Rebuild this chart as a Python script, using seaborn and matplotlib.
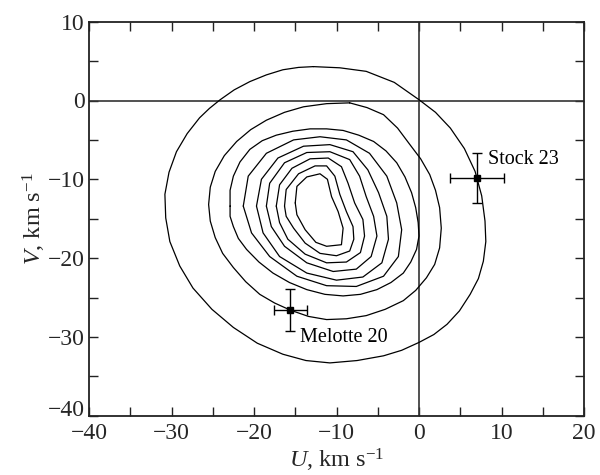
import numpy as np
import pandas as pd
import matplotlib
matplotlib.use("Agg")
import matplotlib.pyplot as plt
from matplotlib.ticker import MultipleLocator
import seaborn as sns

# ---------------- data ----------------
# velocity-distribution contours in the (U, V) plane, outermost first
c1_u = [-12.8, -9.6, -6.4, -3.0, 0.0, 2.0, 3.8, 5.5, 6.8, 7.6, 8.0, 8.1, 7.8, 7.2, 6.2, 4.9, 3.4, 1.8,
        0.0, -2.1, -4.3, -7.5, -10.8, -13.7, -16.5, -19.6, -22.5, -25.1, -27.4, -29.0, -30.2, -30.7,
        -30.8, -30.3, -29.4, -28.1, -26.6, -25.4, -24.1, -22.4, -20.5, -18.5, -16.5, -14.6]
c1_v = [4.3, 4.15, 3.7, 2.3, 0.1, -1.5, -3.5, -6.1, -9.0, -12.1, -15.3, -17.9, -20.4, -22.6, -24.6,
        -26.7, -28.4, -29.7, -30.7, -31.7, -32.4, -33.0, -33.3, -33.0, -32.2, -30.8, -28.8, -26.5,
        -23.8, -21.0, -17.9, -14.9, -11.9, -9.1, -6.5, -4.2, -2.2, -1.0, 0.1, 1.35, 2.4, 3.25, 3.9, 4.2]

c2_u = [-8.4, -6.3, -4.3, -2.6, -1.1, 0.2, 1.3, 2.0, 2.5, 2.7, 2.5, 1.9, 0.9, -0.4, -1.9, -4.1, -6.4,
        -8.8, -11.2, -13.4, -15.6, -17.5, -19.3, -21.0, -22.5, -23.8, -24.7, -25.3, -25.5, -25.3,
        -24.7, -23.6, -22.1, -20.4, -18.5, -16.3, -14.0, -11.2]
c2_v = [-0.3, -0.9, -1.8, -3.5, -5.6, -7.4, -9.4, -11.4, -13.6, -16.2, -18.7, -20.8, -22.5, -24.1,
        -25.4, -26.5, -27.3, -27.7, -27.8, -27.4, -26.6, -25.7, -24.6, -23.0, -21.2, -19.4, -17.4,
        -15.3, -13.2, -11.0, -9.0, -7.0, -5.2, -3.7, -2.5, -1.5, -0.8, -0.4]

c3_u = [-22.9, -22.9, -22.5, -21.7, -20.5, -19.0, -17.3, -15.3, -13.2, -11.2, -9.2, -7.3, -5.5, -4.0,
        -2.7, -1.7, -0.9, -0.4, -0.1, 0.0, -0.3, -1.0, -1.9, -3.4, -5.1, -7.1, -9.2, -11.4, -13.6,
        -15.7, -17.7, -19.4, -20.9, -21.9, -22.5, -22.9]
c3_v = [-13.4, -11.4, -9.6, -7.8, -6.2, -5.1, -4.4, -3.9, -3.6, -3.6, -3.8, -4.4, -5.2, -6.4, -7.9,
        -9.7, -11.7, -13.6, -15.5, -17.2, -18.9, -20.5, -21.9, -23.1, -24.0, -24.6, -24.8, -24.6,
        -24.0, -23.1, -21.9, -20.5, -18.9, -17.5, -16.0, -14.7]

c4_u = [-21.3, -20.7, -18.5, -15.2, -12.0, -8.8, -6.0, -3.9, -2.7, -2.1, -2.5, -4.3, -7.6, -11.2, -14.8, -18.1, -20.3]
c4_v = [-13.4, -9.6, -6.7, -5.0, -4.6, -5.0, -6.7, -9.6, -13.0, -16.4, -19.8, -22.3, -23.6, -23.5, -22.3, -19.8, -16.8]

c5_u = [-19.7, -19.1, -17.1, -14.0, -10.8, -8.0, -6.2, -4.9, -3.9, -3.7, -4.5, -6.8, -10.0, -13.6, -16.9, -18.9]
c5_v = [-13.4, -10.0, -7.3, -5.8, -5.6, -6.5, -8.8, -11.7, -14.7, -17.6, -20.6, -22.4, -22.8, -21.9, -19.8, -16.8]

c6_u = [-18.5, -18.1, -16.3, -13.6, -10.8, -8.4, -7.2, -6.4, -5.5, -5.1, -5.8, -7.6, -10.4, -13.6, -16.3, -17.9]
c6_v = [-13.4, -10.5, -7.9, -6.6, -6.5, -7.5, -9.6, -12.2, -14.7, -17.2, -19.8, -21.4, -21.7, -20.6, -18.5, -16.0]

c7_u = [-17.3, -16.9, -15.4, -13.2, -11.0, -9.4, -8.6, -7.8, -6.8, -6.6, -7.1, -8.8, -11.2, -13.8, -15.9, -16.9]
c7_v = [-13.4, -10.7, -8.6, -7.4, -7.3, -8.4, -10.5, -13.0, -15.1, -17.2, -19.3, -20.5, -20.6, -19.5, -17.6, -15.5]

c8_u = [-16.3, -16.1, -14.6, -12.6, -11.2, -10.2, -9.6, -8.8, -8.0, -7.9, -8.4, -10.0, -12.0, -13.8, -15.2, -16.1]
c8_v = [-13.4, -11.3, -9.3, -8.3, -8.3, -9.6, -11.9, -14.1, -16.0, -17.6, -19.1, -19.7, -19.4, -18.1, -16.2, -14.7]

c9_u = [-15.0, -14.8, -13.6, -12.0, -11.1, -10.6, -9.8, -9.2, -9.4, -11.2, -12.5, -13.8, -14.8]
c9_v = [-13.0, -10.9, -9.7, -9.3, -10.0, -12.2, -14.1, -16.2, -18.3, -18.5, -18.0, -16.4, -14.5]

# open clusters with their velocity errors
cluster_names = ["Stock 23", "Melotte 20"]
cluster_u = [7.0, -15.6]
cluster_v = [-9.8, -26.6]
cluster_u_err = [3.3, 2.0]
cluster_v_err = [3.2, 2.7]

# axis settings
x_ticks = [-40, -30, -20, -10, 0, 10, 20]
y_ticks = [-40, -30, -20, -10, 0, 10]

# ---------------- build long table ----------------
contours_u = [c1_u, c2_u, c3_u, c4_u, c5_u, c6_u, c7_u, c8_u, c9_u]
contours_v = [c1_v, c2_v, c3_v, c4_v, c5_v, c6_v, c7_v, c8_v, c9_v]
rows = []
for level, (us, vs) in enumerate(zip(contours_u, contours_v)):
    us = list(us) + [us[0]]
    vs = list(vs) + [vs[0]]
    for order, (u, v) in enumerate(zip(us, vs)):
        rows.append({"level": level, "order": order, "U": u, "V": v})
df = pd.DataFrame(rows)

# ---------------- style ----------------
sns.set_theme(style="white")
plt.rcParams["font.family"] = ["Liberation Serif", "DejaVu Serif"]
plt.rcParams["mathtext.fontset"] = "custom"
plt.rcParams["mathtext.rm"] = "Liberation Serif"
plt.rcParams["mathtext.it"] = "Liberation Serif:italic"
plt.rcParams["axes.unicode_minus"] = True

fig = plt.figure(figsize=(6, 4.75), dpi=100)
ax = fig.add_axes([89 / 600, 1 - 415.7 / 475, (584 - 89) / 600, (415.7 - 21.7) / 475])

ax.axhline(0, color="#333333", lw=1.2, zorder=1)
ax.axvline(0, color="#333333", lw=1.2, zorder=1)

sns.lineplot(data=df, x="U", y="V", units="level", estimator=None, sort=False,
             color="black", lw=0.9, ax=ax, legend=False, zorder=2)

ax.errorbar(cluster_u, cluster_v, xerr=cluster_u_err, yerr=cluster_v_err,
            fmt="s", color="black", ms=5, capsize=3.5, elinewidth=1.0,
            capthick=1.0, zorder=3)

ax.text(cluster_u[0] + 1.4, cluster_v[0] + 2.3, cluster_names[0],
        fontsize=14.5, ha="left", va="center", color="black")
ax.text(cluster_u[1] + 1.2, cluster_v[1] - 3.5, cluster_names[1],
        fontsize=14.5, ha="left", va="center", color="black")

ax.set_xlim(-40, 20)
ax.set_ylim(-40, 10)
ax.set_xticks(x_ticks)
ax.set_yticks(y_ticks)
ax.xaxis.set_minor_locator(MultipleLocator(5))
ax.yaxis.set_minor_locator(MultipleLocator(5))
ax.tick_params(which="both", direction="in", top=True, right=True,
               bottom=True, left=True, length=6.5, width=1.0, color="#222222")
ax.tick_params(axis="x", which="major", labelsize=17, pad=5)
ax.tick_params(axis="y", which="major", labelsize=17, pad=3)

# lift the lowest y tick label so it clears the x tick labels (as in the reference)
fig.canvas.draw()
ax.get_yticklabels()[0].set_verticalalignment("baseline")

for s in ax.spines.values():
    s.set_visible(True)
    s.set_color("#222222")
    s.set_linewidth(1.3)

ax.set_xlabel(r"$U$, km s$^{-1}$", fontsize=17.5, labelpad=2)
ax.set_ylabel(r"$V$, km s$^{-1}$", fontsize=17.5, labelpad=0)

fig.savefig("out.png", dpi=100)
